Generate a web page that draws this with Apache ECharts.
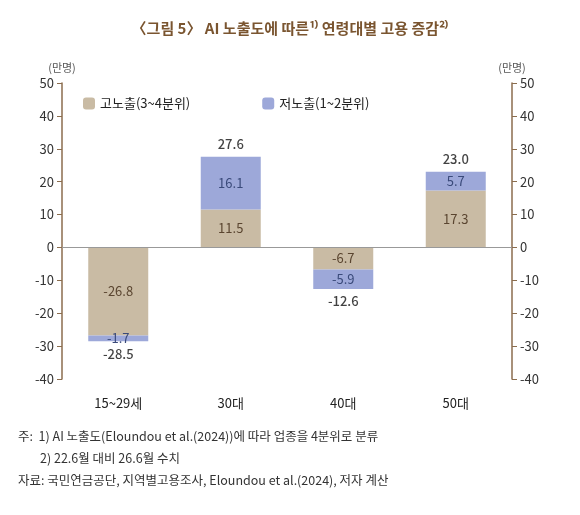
<!DOCTYPE html>
<html><head><meta charset="utf-8">
<script src="https://cdn.jsdelivr.net/npm/echarts@6/dist/echarts.min.js"></script>
<style>html,body{margin:0;padding:0;background:#fff}#c{width:580px;height:515px}</style>
</head><body><div id="c"></div>
<script>
const categories = ['15~29세','30대','40대','50대'];
const highExposure = [-26.8, 11.5, -6.7, 17.3];
const lowExposure = [-1.7, 16.1, -5.9, 5.7];
const totals = [-28.5, 27.6, -12.6, 23.0];
const yTicks = {min:-40, max:50, interval:10};
const brown = '#8b6d4e';
const font = "'Noto Sans CJK KR', sans-serif";
const chart = echarts.init(document.getElementById('c'));
const axisCommon = {
  type:'value', min:yTicks.min, max:yTicks.max, interval:yTicks.interval,
  axisLine:{show:true, lineStyle:{color:brown, width:1.5}},
  axisTick:{show:true, length:5, lineStyle:{color:brown}},
  splitLine:{show:false},
  axisLabel:{color:'#333', fontSize:13, fontFamily:font},
  nameTextStyle:{color:'#555', fontSize:11, fontFamily:font}
};
chart.setOption({
  animation:false,
  textStyle:{fontFamily:font},
  title:{text:'〈그림 5〉 AI 노출도에 따른¹⁾ 연령대별 고용 증감²⁾', left:'center', top:16,
    textStyle:{color:'#7a5530', fontSize:15, fontWeight:'bold', fontFamily:font}},
  legend:{left:78, top:92, itemWidth:12, itemHeight:12, itemGap:72,
    textStyle:{fontSize:13, color:'#222', fontFamily:font},
    data:['고노출(3~4분위)','저노출(1~2분위)']},
  grid:{left:62, right:68, top:83, bottom:136},
  xAxis:{type:'category', data:categories,
    axisLine:{show:true, onZero:false, lineStyle:{color:'transparent'}},
    axisTick:{show:false},
    axisLabel:{color:'#222', fontSize:13, margin:18, fontFamily:font}},
  yAxis:[
    Object.assign({}, axisCommon, {position:'left', name:'(만명)', nameGap:10}),
    Object.assign({}, axisCommon, {position:'right', name:'(만명)', nameGap:10})
  ],
  series:[
    {name:'고노출(3~4분위)', type:'bar', stack:'s', data:highExposure, barWidth:60,
      itemStyle:{color:'#c9bba4'},
      label:{show:true, position:'inside', color:'#5a4530', fontSize:13, formatter:p=>p.value.toFixed(1)},
      markLine:{silent:true, symbol:'none', label:{show:false}, lineStyle:{color:'#999', type:'solid', width:1}, data:[{yAxis:0}]}},
    {name:'저노출(1~2분위)', type:'bar', stack:'s', data:lowExposure, barWidth:60,
      itemStyle:{color:'#9da8d9'},
      label:{show:true, position:'inside', color:'#3a4a7a', fontSize:13, formatter:p=>p.value.toFixed(1)}},
    {name:'합계', type:'scatter', symbolSize:0,
      data: totals.map(v=>({value:v, label:{position: v>=0?'top':'bottom', distance:6}})),
      label:{show:true, color:'#111', fontSize:13, fontWeight:500,
        formatter:p=>p.value.toFixed(1)}}
  ],
  graphic:[
    {type:'text', left:18, top:430, style:{text:'주:  1) AI 노출도(Eloundou et al.(2024))에 따라 업종을 4분위로 분류', fill:'#333', font:"12.5px "+font}},
    {type:'text', left:40, top:452, style:{text:'2) 22.6월 대비 26.6월 수치', fill:'#333', font:"12.5px "+font}},
    {type:'text', left:18, top:474, style:{text:'자료: 국민연금공단, 지역별고용조사, Eloundou et al.(2024), 저자 계산', fill:'#333', font:"12.5px "+font}}
  ]
});
</script></body></html>
